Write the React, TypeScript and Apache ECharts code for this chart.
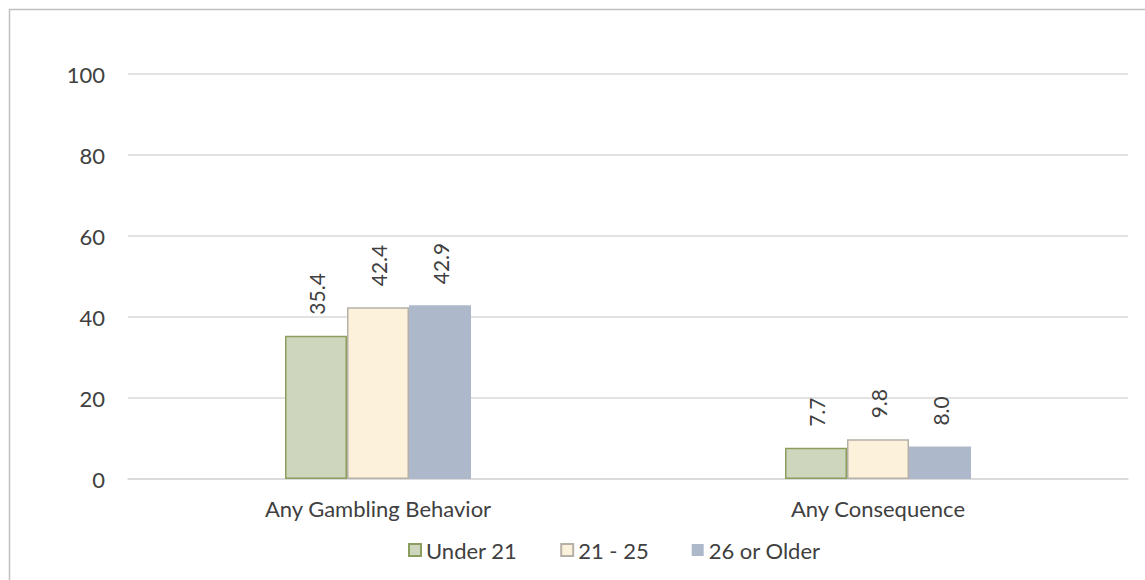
import React, { useEffect, useRef } from "react";
import * as echarts from "echarts";

const categories = ["Any Gambling Behavior", "Any Consequence"];
const seriesNames = ["Under 21", "21 - 25", "26 or Older"];
const under21 = [35.4, 7.7];
const age21to25 = [42.4, 9.8];
const age26plus = [42.9, 8.0];
const yTicks = { min: 0, max: 100, interval: 20 };

export default function App() {
  const ref = useRef<HTMLDivElement>(null);
  useEffect(() => {
    if (!ref.current) return;
    const chart = echarts.init(ref.current, null, { renderer: "svg" });
    const font = "Lato, 'Open Sans', sans-serif";
    const textColor = "#404040";
    const label = {
      show: true,
      position: "top" as const,
      rotate: 90,
      align: "left",
      verticalAlign: "middle",
      distance: 21,
      fontSize: 21,
      fontFamily: font,
      color: textColor,
      formatter: (p: any) => Number(p.value).toFixed(1),
    };
    chart.setOption({
      animation: false,
      backgroundColor: "#ffffff",
      graphic: [
        {
          type: "rect",
          left: 7,
          top: 7,
          shape: { x: 0, y: 0, width: 1160, height: 600 },
          style: { fill: "none", stroke: "#bfbfbf", lineWidth: 1.5 },
          silent: true,
        },
      ],
      grid: { left: 128, right: 17, top: 74, bottom: 101, containLabel: false },
      legend: {
        data: seriesNames,
        bottom: 14,
        left: 403,
        icon: "rect",
        itemWidth: 12,
        itemHeight: 12,
        itemGap: 43,
        textStyle: { fontSize: 22, fontFamily: font, color: textColor },
      },
      xAxis: {
        type: "category",
        data: categories,
        axisTick: { show: false },
        axisLine: { lineStyle: { color: "#d9d9d9", width: 1.5 } },
        axisLabel: { fontSize: 22, fontFamily: font, color: textColor, margin: 18 },
      },
      yAxis: {
        type: "value",
        min: yTicks.min,
        max: yTicks.max,
        interval: yTicks.interval,
        axisLine: { show: false },
        axisTick: { show: false },
        splitLine: { lineStyle: { color: "#d9d9d9", width: 1.5 } },
        axisLabel: { fontSize: 22, fontFamily: font, color: textColor, margin: 23 },
      },
      series: [
        {
          name: seriesNames[0],
          type: "bar",
          data: under21,
          barWidth: 62,
          barGap: "0%",
          itemStyle: { color: "#ced7be", borderColor: "#8c9e5e", borderWidth: 1.5 },
          label,
        },
        {
          name: seriesNames[1],
          type: "bar",
          data: age21to25,
          barWidth: 62,
          barGap: "0%",
          itemStyle: { color: "#fcf1da", borderColor: "#b5b0a8", borderWidth: 1.5 },
          label,
        },
        {
          name: seriesNames[2],
          type: "bar",
          data: age26plus,
          barWidth: 62,
          barGap: "0%",
          itemStyle: { color: "#adb8cb" },
          label,
        },
      ],
    });
    return () => chart.dispose();
  }, []);
  return (
    <div
      ref={ref}
      style={{ position: "fixed", left: 0, top: 0, width: 1145, height: 580 }}
    />
  );
}
